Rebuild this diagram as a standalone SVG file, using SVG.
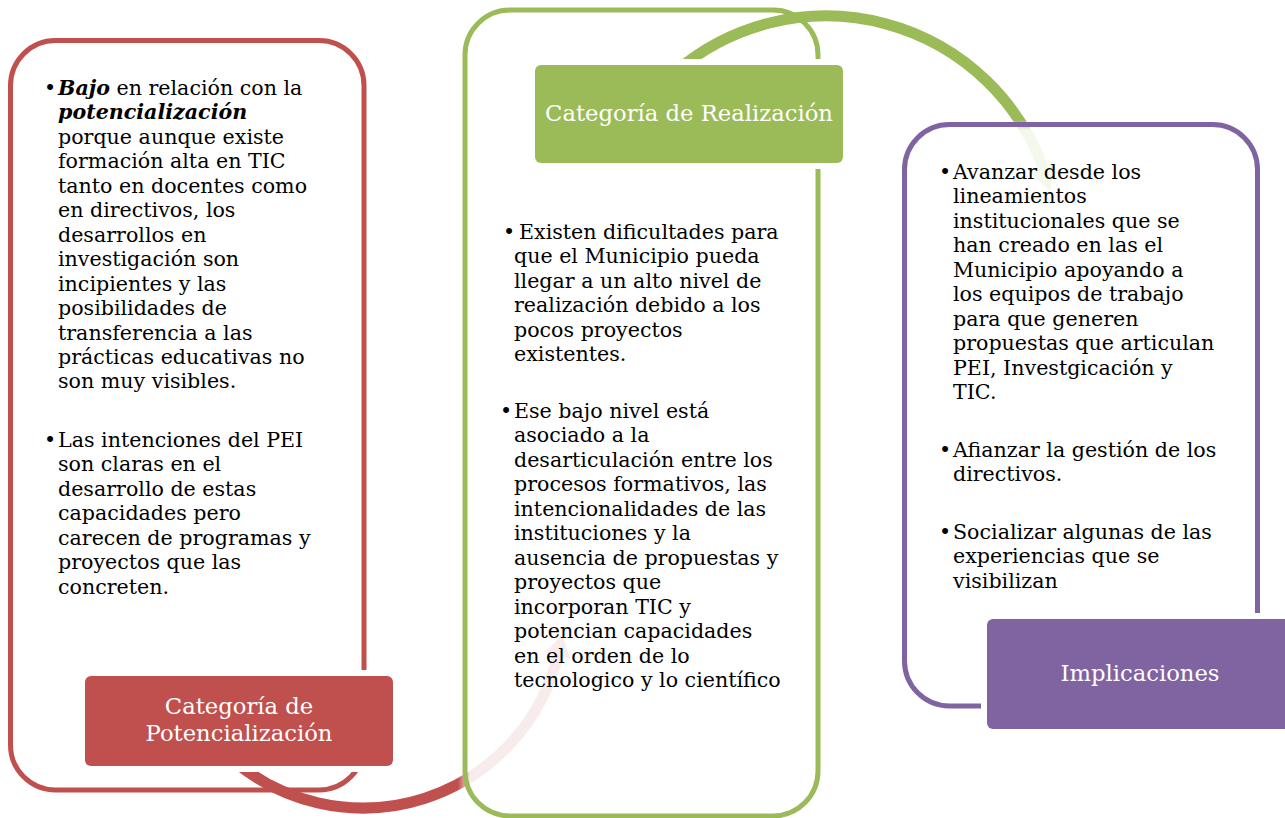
<svg xmlns="http://www.w3.org/2000/svg" width="1285" height="818" viewBox="0 0 1285 818">
<style>
.box{fill:none;stroke-width:5}
.lblbox{stroke:#fff;stroke-width:12;paint-order:stroke}
.body{font-family:"DejaVu Serif","Liberation Serif",serif;font-size:20.6px;fill:#000}
.lbl{font-family:"DejaVu Serif","Liberation Serif",serif;font-size:22.7px;fill:#fff;text-anchor:middle}
.bi{font-weight:bold;font-style:italic}
</style>
<defs>
<linearGradient id="gRed" gradientUnits="userSpaceOnUse" x1="458" y1="0" x2="470" y2="0">
<stop offset="0" stop-color="#C0504D"/><stop offset="1" stop-color="#C0504D" stop-opacity="0.11"/>
</linearGradient>
<linearGradient id="gGreen" gradientUnits="userSpaceOnUse" x1="0" y1="120" x2="0" y2="130">
<stop offset="0" stop-color="#9BBB59"/><stop offset="1" stop-color="#9BBB59" stop-opacity="0.11"/>
</linearGradient>
</defs>
<rect width="1285" height="818" fill="#fff"/>
<g id="connectors">
<path d="M 233.8 761 A 201 201 0 0 0 558 655.6" fill="none" stroke="url(#gRed)" stroke-width="11"/>
<polygon points="545.4,652.5 570.6,658.8 562,635" fill="url(#gRed)"/>
<path d="M 677.5 70 A 231 231 0 0 1 1043.1 168" fill="none" stroke="url(#gGreen)" stroke-width="11"/>
<polygon points="1030.9,172.4 1055.3,163.5 1050.1,191.1" fill="url(#gGreen)"/>
</g>
<g id="node-potencializacion">
<rect class="box" x="10.5" y="40.5" width="353.5" height="749.5" rx="45" stroke="#C0504D"/>
<text class="body" x="44" y="95">•</text>
<text class="body" x="58" y="95"><tspan class="bi">Bajo</tspan> en relación con la<tspan x="58" dy="24.45" class="bi">potencialización</tspan><tspan x="58" dy="24.45">porque aunque existe</tspan><tspan x="58" dy="24.45">formación alta en TIC</tspan><tspan x="58" dy="24.45">tanto en docentes como</tspan><tspan x="58" dy="24.45">en directivos, los</tspan><tspan x="58" dy="24.45">desarrollos en</tspan><tspan x="58" dy="24.45">investigación son</tspan><tspan x="58" dy="24.45">incipientes y las</tspan><tspan x="58" dy="24.45">posibilidades de</tspan><tspan x="58" dy="24.45">transferencia a las</tspan><tspan x="58" dy="24.45">prácticas educativas no</tspan><tspan x="58" dy="24.45">son muy visibles.</tspan></text>
<text class="body" x="44" y="447">•</text>
<text class="body" x="58" y="447">Las intenciones del PEI<tspan x="58" dy="24.45">son claras en el</tspan><tspan x="58" dy="24.45">desarrollo de estas</tspan><tspan x="58" dy="24.45">capacidades pero</tspan><tspan x="58" dy="24.45">carecen de programas y</tspan><tspan x="58" dy="24.45">proyectos que las</tspan><tspan x="58" dy="24.45">concreten.</tspan></text>
<rect class="lblbox" x="85" y="676" width="308" height="90" rx="6" fill="#C0504D"/>
<text class="lbl" x="239" y="713.5">Categoría de<tspan x="239" dy="27">Potencialización</tspan></text>
</g>
<g id="node-realizacion">
<rect class="box" x="465" y="10" width="353" height="806" rx="45" stroke="#9BBB59"/>
<text class="body" x="503" y="239">•</text>
<text class="body" x="519" y="239">Existen dificultades para<tspan x="514" dy="24.45">que el Municipio pueda</tspan><tspan x="514" dy="24.45">llegar a un alto nivel de</tspan><tspan x="514" dy="24.45">realización debido a los</tspan><tspan x="514" dy="24.45">pocos proyectos</tspan><tspan x="514" dy="24.45">existentes.</tspan></text>
<text class="body" x="500" y="418">•</text>
<text class="body" x="514" y="418">Ese bajo nivel está<tspan x="514" dy="24.45">asociado a la</tspan><tspan x="514" dy="24.45">desarticulación entre los</tspan><tspan x="514" dy="24.45">procesos formativos, las</tspan><tspan x="514" dy="24.45">intencionalidades de las</tspan><tspan x="514" dy="24.45">instituciones y la</tspan><tspan x="514" dy="24.45">ausencia de propuestas y</tspan><tspan x="514" dy="24.45">proyectos que</tspan><tspan x="514" dy="24.45">incorporan TIC y</tspan><tspan x="514" dy="24.45">potencian capacidades</tspan><tspan x="514" dy="24.45">en el orden de lo</tspan><tspan x="514" dy="24.45">tecnologico y lo científico</tspan></text>
<rect class="lblbox" x="535" y="65" width="308" height="98" rx="6" fill="#9BBB59"/>
<text class="lbl" x="689" y="120.5">Categoría de Realización</text>
</g>
<g id="node-implicaciones">
<rect class="box" x="904.5" y="124.5" width="353" height="581.5" rx="45" stroke="#8064A2"/>
<text class="body" x="939" y="179">•</text>
<text class="body" x="953" y="179">Avanzar desde los<tspan x="953" dy="24.45">lineamientos</tspan><tspan x="953" dy="24.45">institucionales que se</tspan><tspan x="953" dy="24.45">han creado en las el</tspan><tspan x="953" dy="24.45">Municipio apoyando a</tspan><tspan x="953" dy="24.45">los equipos de trabajo</tspan><tspan x="953" dy="24.45">para que generen</tspan><tspan x="953" dy="24.45">propuestas que articulan</tspan><tspan x="953" dy="24.45">PEI, Investgicación y</tspan><tspan x="953" dy="24.45">TIC.</tspan></text>
<text class="body" x="939" y="457">•</text>
<text class="body" x="953" y="457">Afianzar la gestión de los<tspan x="953" dy="24.45">directivos.</tspan></text>
<text class="body" x="939" y="539">•</text>
<text class="body" x="953" y="539">Socializar algunas de las<tspan x="953" dy="24.45">experiencias que se</tspan><tspan x="953" dy="24.45">visibilizan</tspan></text>
<rect class="lblbox" x="987" y="619" width="310" height="110" rx="6" fill="#8064A2"/>
<text class="lbl" x="1140" y="680.5">Implicaciones</text>
</g>
</svg>
